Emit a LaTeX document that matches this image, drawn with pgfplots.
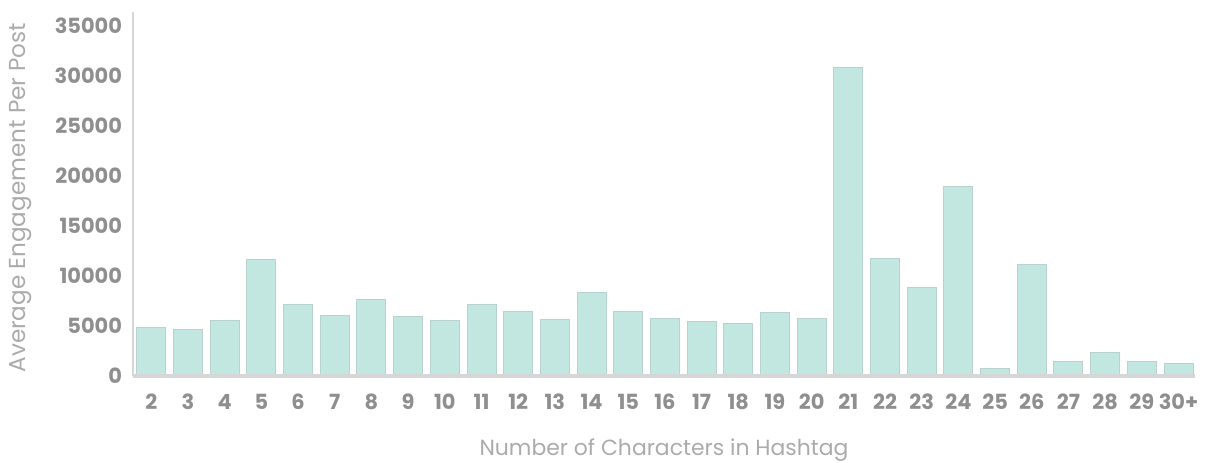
\documentclass[border=0pt]{standalone}
\usepackage{pgfplots}
\pgfplotsset{compat=1.18}
\usepackage{fontspec}
\setmainfont{Poppins}
\definecolor{barfill}{HTML}{C2E6E0}
\definecolor{baredge}{HTML}{B8D2CD}
\definecolor{ticktext}{HTML}{8F8F8F}
\definecolor{labeltext}{HTML}{ABABAB}
\definecolor{axisgray}{HTML}{D6D6D6}

\begin{document}
\begin{tikzpicture}
\begin{axis}[
  scale only axis, width=531bp, height=182bp,
  xmin=-0.5, xmax=28.45, ymin=0, ymax=36400,
  ytick={0,5000,10000,15000,20000,25000,30000,35000},
  xtick={0,...,28},
  xticklabels={2,3,4,5,6,7,8,9,10,11,12,13,14,15,16,17,18,19,20,21,22,23,24,25,26,27,28,29,30+},
  axis x line=bottom, axis y line=left,
  axis line style={-},
  x axis line style={draw=axisgray, line width=2bp},
  y axis line style={draw=axisgray, line width=1bp},
  major tick length=0pt,
  axis on top,
  scaled y ticks=false,
  /pgf/number format/assume math mode=true,
  /pgf/number format/1000 sep={},
  tick label style={font=\bfseries\fontsize{10.5}{12}\selectfont, text=ticktext},
  yticklabel style={xshift=-2bp},
  xticklabel style={yshift=-5.5bp},
  label style={text=labeltext},
  xlabel={Number of Characters in Hashtag},
  ylabel={Average Engagement Per Post},
  xlabel style={font=\fontsize{11}{13}\selectfont, at={(axis description cs:0.5,-0.2033)}, anchor=center},
  ylabel style={font=\fontsize{11.6}{13}\selectfont, at={(axis description cs:-0.1055,0.49)}, anchor=center},
]
\addplot[ybar, bar width=14.5bp, fill=barfill, draw=baredge, line width=0.5bp] coordinates {
  (0,4800) (1,4600) (2,5500) (3,11600) (4,7150) (5,6000) (6,7600) (7,5900)
  (8,5500) (9,7100) (10,6450) (11,5650) (12,8300) (13,6400) (14,5700)
  (15,5450) (16,5200) (17,6300) (18,5750) (19,30800) (20,11700) (21,8800)
  (22,18900) (23,700) (24,11100) (25,1400) (26,2300) (27,1400) (28,1200) };
\end{axis}
\pgfresetboundingbox
\path (-66.5bp,-43.5bp) rectangle (536bp,188bp);
\end{tikzpicture}
\end{document}
